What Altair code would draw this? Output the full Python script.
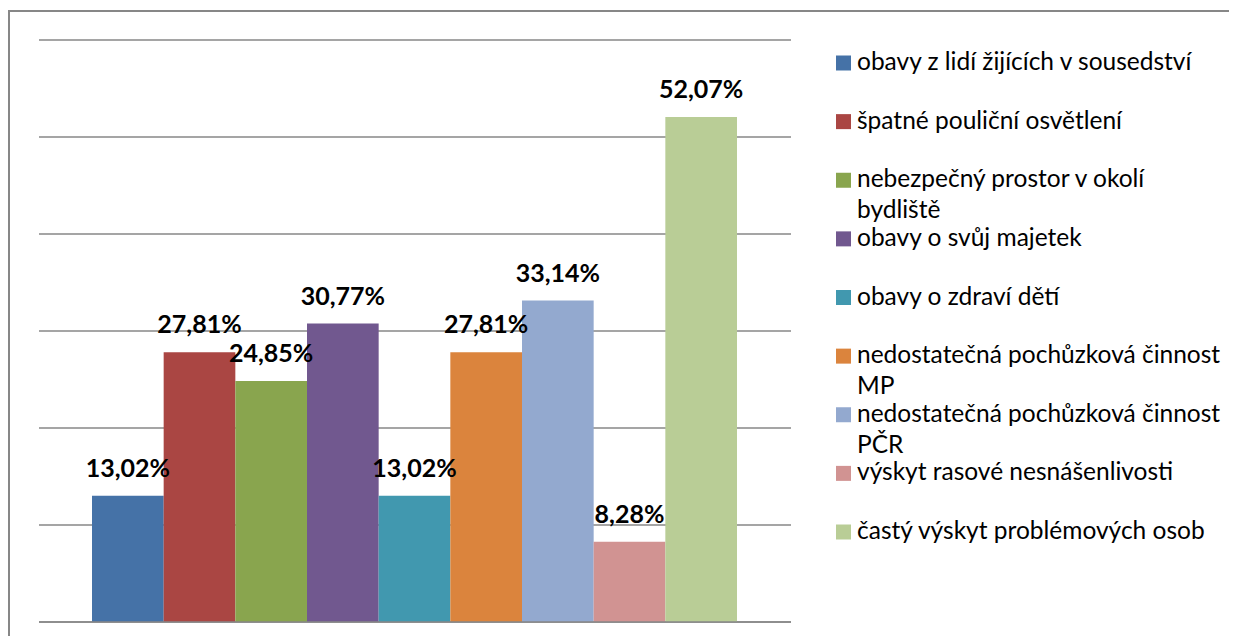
import altair as alt
import pandas as pd

series = [
    "obavy z lidí žijících v sousedství",
    "špatné pouliční osvětlení",
    "nebezpečný prostor v okolí bydliště",
    "obavy o svůj majetek",
    "obavy o zdraví dětí",
    "nedostatečná pochůzková činnost MP",
    "nedostatečná pochůzková činnost PČR",
    "výskyt rasové nesnášenlivosti",
    "častý výskyt problémových osob",
]
legend_text = [
    "obavy z lidí žijících v sousedství",
    "špatné pouliční osvětlení",
    "nebezpečný prostor v okolí\nbydliště",
    "obavy o svůj majetek",
    "obavy o zdraví dětí",
    "nedostatečná pochůzková činnost\nMP",
    "nedostatečná pochůzková činnost\nPČR",
    "výskyt rasové nesnášenlivosti",
    "častý výskyt problémových osob",
]
values = [13.02, 27.81, 24.85, 30.77, 13.02, 27.81, 33.14, 8.28, 52.07]
colors = ["#4572A7", "#AA4643", "#89A54E", "#71588F", "#4198AF",
          "#DB843D", "#93A9CF", "#D19392", "#B9CD96"]
grid_values = [0, 10, 20, 30, 40, 50, 60]

labels = [f"{v:.2f}".replace(".", ",") + "%" for v in values]

df = pd.DataFrame({"series": series, "value": values, "label": labels, "legend": legend_text})
grid = pd.DataFrame({"g": grid_values})
one = pd.DataFrame({"g": [0]})

W, H = 1221, 628
GRID = "#878787"

xs = alt.Scale(domain=series, range=[84, 729], paddingInner=0, paddingOuter=0)
ys = alt.Scale(domain=[0, 60], range=[614, 32], nice=False, zero=True)
cs = alt.Scale(domain=series, range=colors)
ls = alt.Scale(type="point", domain=series, range=[55, 524], padding=0)

frame_top = alt.Chart(one).mark_rule(color=GRID, strokeWidth=2).encode(
    x=alt.value(0), x2=alt.value(W), y=alt.value(3))
frame_left = alt.Chart(one).mark_rule(color=GRID, strokeWidth=2).encode(
    x=alt.value(1), y=alt.value(2), y2=alt.value(H))

gridlines = alt.Chart(grid).mark_rule(color=GRID, strokeWidth=1.6).encode(
    y=alt.Y("g:Q", scale=ys, axis=None), x=alt.value(31), x2=alt.value(783))

bars = alt.Chart(df).mark_bar().encode(
    x=alt.X("series:N", scale=xs, axis=None),
    y=alt.Y("value:Q", scale=ys, axis=None),
    color=alt.Color("series:N", scale=cs, legend=None),
)

bottom = alt.Chart(one).mark_rule(color=GRID, strokeWidth=1.6).encode(
    y=alt.Y("g:Q", scale=ys, axis=None), x=alt.value(31), x2=alt.value(783))

bar_labels = alt.Chart(df).mark_text(
    font="Lato", fontSize=25, fontWeight="bold", baseline="middle", dy=-27, color="black"
).encode(
    x=alt.X("series:N", scale=xs, axis=None),
    y=alt.Y("value:Q", scale=ys, axis=None),
    text="label:N",
)

leg_sq = alt.Chart(df).mark_square(size=225, opacity=1).encode(
    x=alt.value(835.5),
    y=alt.Y("series:N", scale=ls, axis=None),
    color=alt.Color("series:N", scale=cs, legend=None),
)

leg_txt = alt.Chart(df).mark_text(
    align="left", baseline="alphabetic", dy=7, font="Lato", fontSize=24.5,
    lineBreak="\n", lineHeight=31, color="black"
).encode(
    x=alt.value(849),
    y=alt.Y("series:N", scale=ls, axis=None),
    text="legend:N",
)

chart = alt.layer(
    frame_top, frame_left, gridlines, bars, bottom, bar_labels, leg_sq, leg_txt
).resolve_scale(y="independent").properties(
    width=W, height=H, padding=0,
    autosize=alt.AutoSizeParams(type="none"),
).configure_view(stroke="transparent", strokeWidth=0)

chart.save("out.html", embed_options={"renderer": "svg", "actions": False})
